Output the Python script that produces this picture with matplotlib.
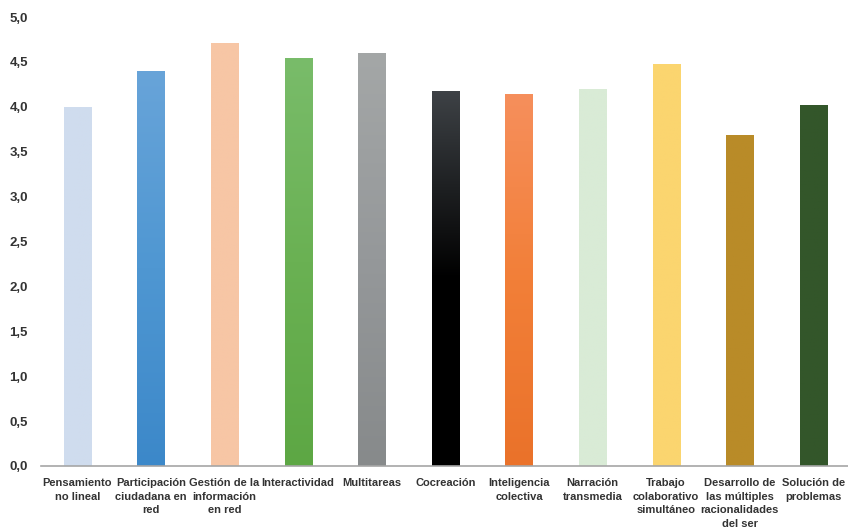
import numpy as np
import matplotlib.pyplot as plt
from matplotlib.colors import LinearSegmentedColormap

categories = ['Pensamiento\nno lineal', 'Participación\nciudadana en\nred',
              'Gestión de la\ninformación\nen red', 'Interactividad', 'Multitareas',
              'Cocreación', 'Inteligencia\ncolectiva', 'Narración\ntransmedia',
              'Trabajo\ncolaborativo\nsimultáneo',
              'Desarrollo de\nlas múltiples\nracionalidades\ndel ser',
              'Solución de\nproblemas']
values = [4.00, 4.40, 4.71, 4.54, 4.60, 4.18, 4.14, 4.20, 4.48, 3.69, 4.02]
yticks = [0, 0.5, 1.0, 1.5, 2.0, 2.5, 3.0, 3.5, 4.0, 4.5, 5.0]

# gradient stops per bar: (top, middle, bottom)
colors = [('#CFDCEE', '#CFDCEE', '#CFDCEE'),
          ('#68A4D9', '#4F97D2', '#3C88C9'),
          ('#F7C6A5', '#F7C6A5', '#F7C6A5'),
          ('#79BC6A', '#6AB153', '#5DA744'),
          ('#A4A7A7', '#95989A', '#878A8B'),
          ('#3E4246', '#000000', '#000000'),
          ('#F68F5C', '#F27F38', '#EA722A'),
          ('#D9EBD6', '#D9EBD6', '#D9EBD6'),
          ('#FBD56F', '#FBD56F', '#FBD56F'),
          ('#B98B28', '#B98B28', '#B98B28'),
          ('#33562A', '#33562A', '#33562A')]

plt.rcParams['font.family'] = ['Liberation Sans', 'DejaVu Sans']

fig = plt.figure(figsize=(8.48, 5.31), dpi=100)
ax = fig.add_axes([40.5 / 848, 1 - 466 / 531, 1 - 40.5 / 848, (466 - 17) / 531])

x = np.arange(len(values))
bars = ax.bar(x, values, width=0.37, color='none', zorder=2)
for b, c in zip(bars, colors):
    cmap = LinearSegmentedColormap.from_list('g', [c[2], c[1], c[0]])
    grad = np.linspace(0, 1, 256).reshape(-1, 1)
    im = ax.imshow(grad, cmap=cmap, origin='lower', aspect='auto',
                   extent=[b.get_x(), b.get_x() + b.get_width(), 0, b.get_height()],
                   zorder=2)
    im.set_clip_path(b)

ax.set_xlim(-0.5, 10.47)
ax.set_ylim(0, 5)
ax.set_yticks(yticks)
ax.set_yticklabels([f'{t:.1f}'.replace('.', ',') for t in yticks],
                   fontsize=9.5, fontweight='bold', color='#333333')
ax.set_xticks(x)
ax.set_xticklabels(categories, fontsize=8, fontweight='bold', color='#333333',
                   linespacing=1.42)
ax.tick_params(axis='both', length=0)
ax.tick_params(axis='y', pad=9)
ax.tick_params(axis='x', pad=9)
for s in ['top', 'right', 'left']:
    ax.spines[s].set_visible(False)
ax.spines['bottom'].set_color('#A6A6A6')
ax.spines['bottom'].set_linewidth(1.2)

fig.savefig('out.png', dpi=100)
